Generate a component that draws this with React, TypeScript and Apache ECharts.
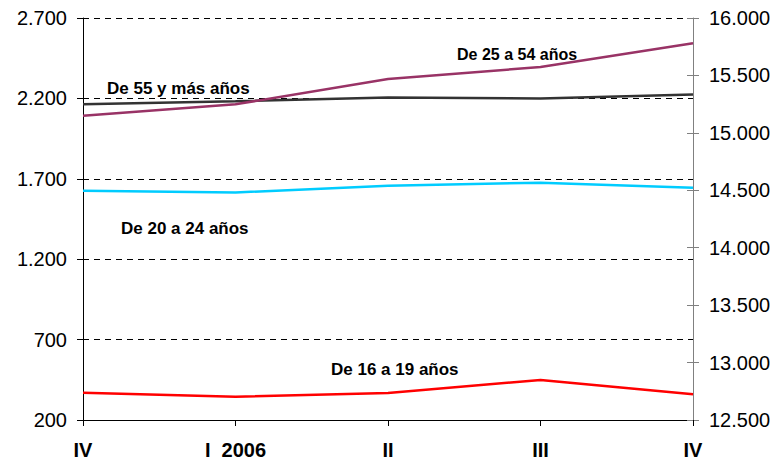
import React, { useEffect, useRef } from "react";
import * as echarts from "echarts";

const categories = ["IV", "I  2006", "II", "III", "IV"];
const de55yMas = [2163, 2182, 2205, 2199, 2224];
const de25a54 = [15149, 15249, 15469, 15573, 15780];
const de20a24 = [1626, 1615, 1657, 1676, 1645];
const de16a19 = [370, 345, 368, 449, 360];

const leftTicks = { min: 200, max: 2700, interval: 500 };
const rightTicks = { min: 12500, max: 16000, interval: 500 };

const fmt = (v: number) => String(Math.round(v)).replace(/\B(?=(\d{3})+(?!\d))/g, ".");

export default function App() {
  const ref = useRef<HTMLDivElement>(null);
  useEffect(() => {
    if (!ref.current) return;
    const chart = echarts.init(ref.current, undefined, { renderer: "svg" });
    const font = "Liberation Sans, Arial, sans-serif";
    const lblStyle = { fontFamily: font, fontSize: 17, fontWeight: "bold" as const, fill: "#000" };
    chart.setOption({
      animation: false,
      backgroundColor: "#fff",
      grid: { left: 83, right: 83, top: 18, bottom: 43 },
      xAxis: {
        type: "category",
        data: categories,
        boundaryGap: false,
        axisLine: { lineStyle: { color: "#000", width: 1 } },
        axisTick: { show: true, length: 6, lineStyle: { color: "#000" } },
        axisLabel: { color: "#000", fontFamily: font, fontSize: 20, fontWeight: "bold", margin: 20 },
        splitLine: { show: false },
      },
      yAxis: [
        {
          type: "value",
          position: "left",
          ...leftTicks,
          axisLine: { show: true, lineStyle: { color: "#000", width: 1 } },
          axisTick: { show: true, length: 6, lineStyle: { color: "#000" } },
          axisLabel: { color: "#000", fontFamily: font, fontSize: 20, margin: 16, formatter: fmt },
          splitLine: { show: true, lineStyle: { color: "#000", type: [6, 5], width: 1 } },
        },
        {
          type: "value",
          position: "right",
          ...rightTicks,
          axisLine: { show: true, lineStyle: { color: "#808080", width: 1 } },
          axisTick: { show: true, length: 6, lineStyle: { color: "#808080" } },
          axisLabel: { color: "#000", fontFamily: font, fontSize: 20, margin: 16, formatter: fmt },
          splitLine: { show: false },
        },
        {
          type: "value",
          position: "right",
          ...rightTicks,
          axisLine: { show: false },
          axisTick: { show: true, inside: true, length: 6, lineStyle: { color: "#808080" } },
          axisLabel: { show: false },
          splitLine: { show: false },
        },
      ],
      series: [
        {
          name: "De 55 y más años",
          type: "line",
          yAxisIndex: 0,
          data: de55yMas,
          symbol: "none",
          lineStyle: { color: "#333333", width: 2.5 },
          z: 3,
        },
        {
          name: "De 25 a 54 años",
          type: "line",
          yAxisIndex: 1,
          data: de25a54,
          symbol: "none",
          lineStyle: { color: "#993366", width: 2.5 },
          z: 4,
        },
        {
          name: "De 20 a 24 años",
          type: "line",
          yAxisIndex: 0,
          data: de20a24,
          symbol: "none",
          lineStyle: { color: "#00CCFF", width: 2.5 },
        },
        {
          name: "De 16 a 19 años",
          type: "line",
          yAxisIndex: 0,
          data: de16a19,
          symbol: "none",
          lineStyle: { color: "#FF0000", width: 2.5 },
        },
      ],
      graphic: [
        { type: "text", left: 107, top: 80, style: { ...lblStyle, text: "De 55 y más años" } },
        { type: "text", left: 457, top: 46, style: { ...lblStyle, fontSize: 16, text: "De 25 a 54 años" } },
        { type: "text", left: 121, top: 220, style: { ...lblStyle, text: "De 20 a 24 años" } },
        { type: "text", left: 331, top: 361, style: { ...lblStyle, text: "De 16 a 19 años" } },
      ],
    });
    return () => chart.dispose();
  }, []);
  return (
    <div
      ref={ref}
      style={{ position: "fixed", left: 0, top: 0, width: 776, height: 463 }}
    />
  );
}
